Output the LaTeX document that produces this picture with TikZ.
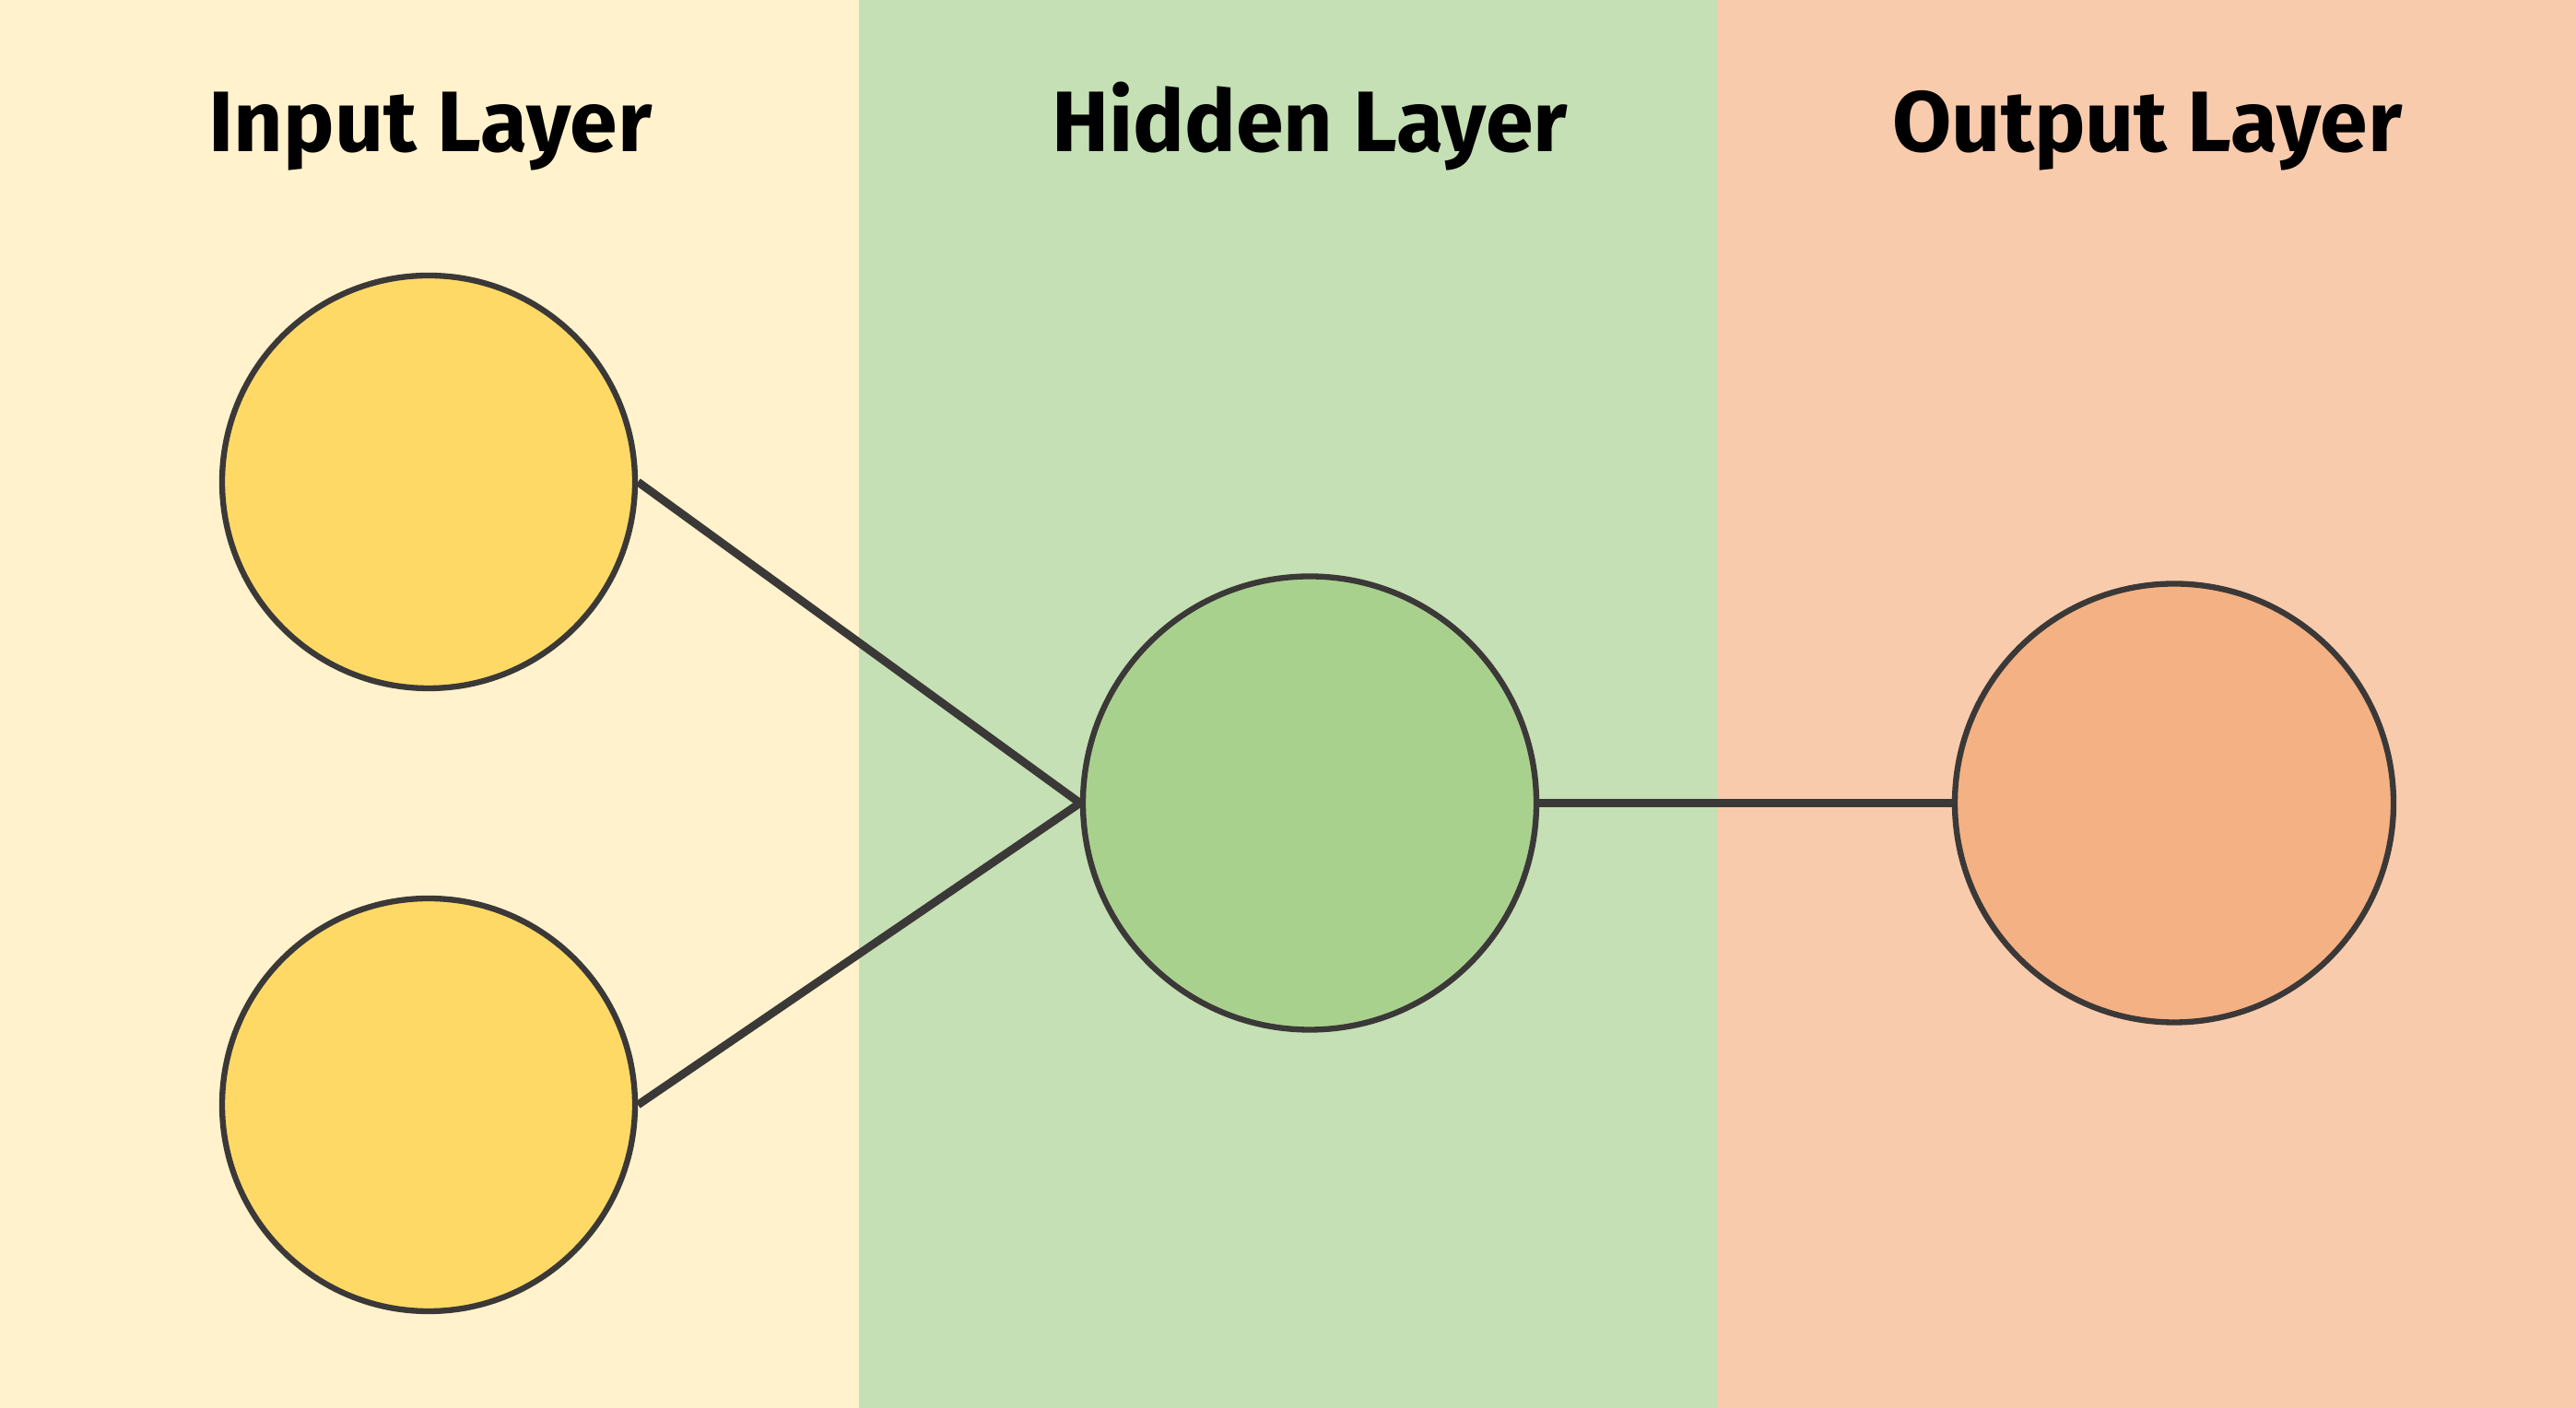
\documentclass[tikz,border=0pt]{standalone}
\usepackage{fontspec}
\setmainfont{Fira Sans}
\usetikzlibrary{shapes,positioning}

\definecolor{inbg}{HTML}{FFF2CC}
\definecolor{hidbg}{HTML}{C5E0B4}
\definecolor{outbg}{HTML}{F8CBAD}
\definecolor{infill}{HTML}{FFD966}
\definecolor{hidfill}{HTML}{A9D18E}
\definecolor{outfill}{HTML}{F4B183}
\definecolor{edge}{HTML}{3B3838}

\begin{document}
\begin{tikzpicture}[
    neuron/.style={circle,draw=edge,line width=1.8pt,inner sep=0pt},
    title/.style={anchor=base,font=\fontsize{26.5}{30}\selectfont\bfseries},
    link/.style={draw=edge,line width=2.5pt}
  ]
                % Layer bands
                \fill[inbg] (0,0) rectangle (9.3167,15.28);
                \fill[hidbg] (9.3167,0) rectangle (18.6333,15.28);
                \fill[outbg] (18.6333,0) rectangle (27.95,15.28);
                \useasboundingbox (0,0) rectangle (27.95,15.28);

                % Titles
                \node[title] (intitle) at (4.67,13.63) {Input Layer};
                \node[title] (hidtitle) at (14.21,13.63) {Hidden Layer};
                \node[title] (outtitle) at (23.30,13.63) {Output Layer};

                % Input layer
                \node[neuron,fill=infill,minimum size=4.48cm] (in1) at (4.65,10.05) {};
                \node[neuron,fill=infill,minimum size=4.48cm] (in2) at (4.65,3.29) {};

                % Hidden layer
                \node[neuron,fill=hidfill,minimum size=4.92cm] (hid) at (14.21,6.565) {};

                % Output layer
                \node[neuron,fill=outfill,minimum size=4.76cm] (out) at (23.59,6.565) {};

                % Connections
                \draw[link] (in1.east) -- (hid.west);
                \draw[link] (in2.east) -- (hid.west);
                \draw[link] (hid.east) -- (out.west);
\end{tikzpicture}
\end{document}
